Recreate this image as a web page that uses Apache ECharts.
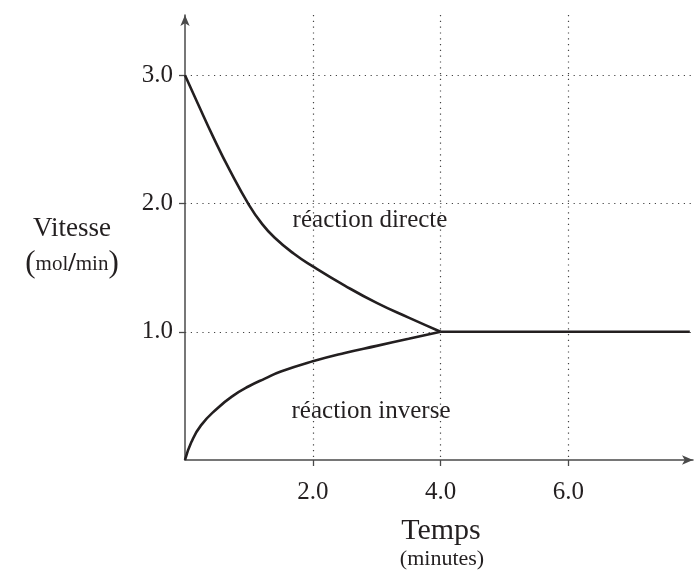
<!DOCTYPE html>
<html>
<head>
<meta charset="utf-8">
<title>Vitesse de réaction</title>
<script src="https://cdn.jsdelivr.net/npm/echarts@6/dist/echarts.min.js"></script>
<style>
  html, body { margin: 0; padding: 0; background: #fff; }
  #chart { width: 694px; height: 575px; }
</style>
</head>
<body>
<div id="chart"></div>
<script>
// valeurs (temps en minutes, vitesse en mol/min)
const tempsDirecte = [0, 0.2, 0.45, 0.7, 1.0, 1.2, 1.4, 1.7, 2.0, 2.5, 3.0, 3.5, 4.0];
const vitesseDirecte = [3.0, 2.78, 2.51, 2.26, 1.99, 1.845, 1.735, 1.61, 1.51, 1.36, 1.225, 1.11, 1.0];
const tempsInverse = [0, 0.1, 0.25, 0.5, 0.75, 1.0, 1.25, 1.5, 2.0, 2.5, 3.0, 3.5, 4.0];
const vitesseInverse = [0, 0.14, 0.27, 0.40, 0.50, 0.575, 0.635, 0.69, 0.77, 0.835, 0.89, 0.945, 1.0];
const tempsEquilibre = [4, 7.9];
const vitesseEquilibre = [1.0, 1.0];
const xTicks = [2, 4, 6];
const yTicks = [1, 2, 3];

function paires(xs, ys) {
  return xs.map(function (x, i) { return [x, ys[i]]; });
}

const serif = '"Liberation Serif", "DejaVu Serif", serif';
const ink = '#231f20';

var chart = echarts.init(document.getElementById('chart'));

// style commun des axes (graduations et grille seulement sur ticks)
function axe(ticks, max, pas) {
  return {
    type: 'value',
    min: 0,
    max: max,
    interval: pas,
    axisLine: {
      show: true,
      symbol: ['none', 'arrow'],
      symbolSize: [7, 11],
      lineStyle: { color: '#4a4a4a', width: 1.5 }
    },
    axisTick: { show: true, length: 6, customValues: ticks, lineStyle: { color: '#4a4a4a', width: 1.3 } },
    axisLabel: {
      customValues: ticks,
      color: ink,
      fontFamily: serif,
      fontSize: 25,
      formatter: function (v) { return v.toFixed(1); }
    },
    splitLine: {
      show: true,
      lineStyle: { color: '#444', width: 1.2, type: [1.2, 4.6] }
    }
  };
}

var xAxis = axe(xTicks, 7.95, 2);
xAxis.axisLabel.margin = 20;
var yAxis = axe(yTicks, 3.47, 1);
yAxis.axisLabel.margin = 12;

function courbe(nom, data) {
  return {
    name: nom,
    type: 'line',
    data: data,
    smooth: 0.5,
    showSymbol: false,
    lineStyle: { color: ink, width: 2.6 },
    z: 5
  };
}

chart.setOption({
  animation: false,
  grid: { left: 185, top: 15, width: 508, height: 445 },
  xAxis: xAxis,
  yAxis: yAxis,
  series: [
    courbe('réaction directe', paires(tempsDirecte, vitesseDirecte)),
    courbe('réaction inverse', paires(tempsInverse, vitesseInverse)),
    courbe('équilibre', paires(tempsEquilibre, vitesseEquilibre))
  ],
  graphic: [
    { type: 'text', x: 370, y: 220, style: { text: 'réaction directe', fill: ink, font: '25px ' + serif, textAlign: 'center', textVerticalAlign: 'middle' } },
    { type: 'text', x: 371, y: 411, style: { text: 'réaction inverse', fill: ink, font: '25px ' + serif, textAlign: 'center', textVerticalAlign: 'middle' } },
    { type: 'text', x: 72, y: 229, style: { text: 'Vitesse', fill: ink, font: '27px ' + serif, textAlign: 'center', textVerticalAlign: 'middle' } },
    {
      type: 'text', x: 72, y: 264,
      style: {
        text: '{p|(}{s|mol}{b|/}{s|min}{p|)}',
        fill: ink,
        textAlign: 'center',
        textVerticalAlign: 'middle',
        rich: {
          p: { fontFamily: serif, fontSize: 31, fill: ink },
          s: { fontFamily: serif, fontSize: 21, fill: ink },
          b: { fontFamily: serif, fontSize: 27, fontWeight: 'bold', fill: ink }
        }
      }
    },
    { type: 'text', x: 441, y: 531, style: { text: 'Temps', fill: ink, font: '30px ' + serif, textAlign: 'center', textVerticalAlign: 'middle' } },
    { type: 'text', x: 442, y: 559, style: { text: '(minutes)', fill: ink, font: '22px ' + serif, textAlign: 'center', textVerticalAlign: 'middle' } }
  ]
});

window.addEventListener('resize', function () {
  chart.resize();
});
</script>
</body>
</html>
